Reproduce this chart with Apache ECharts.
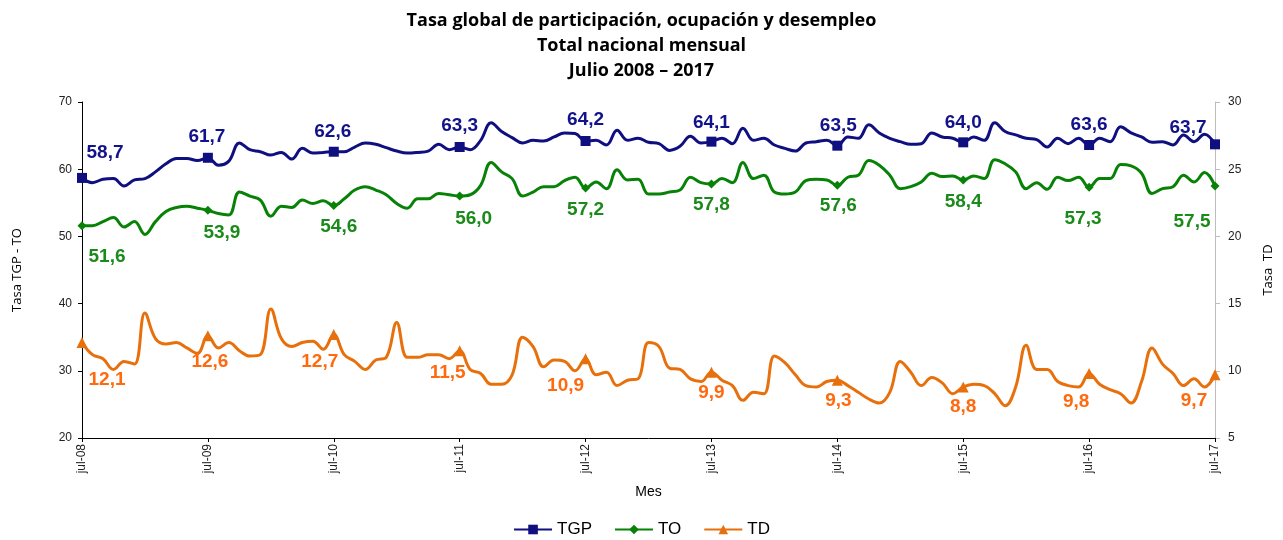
<!DOCTYPE html>
<html>
<head>
<meta charset="utf-8">
<script src="https://cdn.jsdelivr.net/npm/echarts@6/dist/echarts.min.js"></script>
<style>html,body{margin:0;padding:0;background:#fff}#c{width:1283px;height:540px}</style>
</head>
<body>
<div id="c"></div>
<script>
// Month abbreviations and years (July 2008 .. July 2017)
const monthNames = ['ene','feb','mar','abr','may','jun','jul','ago','sep','oct','nov','dic'];
const startYear = 2008, startMonth = 6, nMonths = 109;

// Tasa global de participación (left axis)
const TGP = [58.7,58.0,58.5,58.6,57.5,58.4,58.6,59.6,60.8,61.6,61.6,61.3,
  61.7,60.6,61.2,63.9,62.9,62.6,62.1,62.5,61.5,63.1,62.4,62.5,
  62.6,62.6,63.3,63.9,63.7,63.2,62.7,62.4,62.5,62.7,63.7,62.9,
  63.3,62.9,64.3,66.9,65.6,64.7,63.9,64.3,64.2,64.8,65.4,65.3,
  64.2,64.3,63.6,65.8,64.3,64.6,64.0,63.8,62.8,63.4,64.9,63.9,
  64.1,64.6,63.8,66.1,64.3,64.6,63.6,63.1,62.7,63.9,64.1,64.3,
  63.5,64.8,64.6,66.6,65.4,64.6,64.1,63.7,63.8,65.4,64.8,64.6,
  64.0,64.8,64.3,66.9,65.6,65.1,64.6,64.4,63.3,64.6,63.8,64.6,
  63.6,64.6,64.1,66.3,65.4,64.8,64.0,64.1,63.6,65.1,64.1,65.2,
  63.7];
// Tasa de ocupación (left axis)
const TO = [51.6,51.6,52.2,52.8,51.4,52.2,50.3,52.2,53.7,54.3,54.5,54.2,
  53.9,53.4,53.2,56.6,56.0,55.4,53.0,54.5,54.3,55.4,54.9,55.3,
  54.6,55.6,56.9,57.4,56.9,56.2,54.9,54.2,55.6,55.6,56.4,56.2,
  56.0,56.2,57.6,61.0,59.6,58.6,56.0,56.6,57.4,57.4,58.3,58.8,
  57.2,58.1,57.1,59.9,58.4,58.5,56.3,56.3,56.6,56.9,58.8,58.0,
  57.8,58.6,58.0,61.0,58.6,59.1,56.6,56.3,56.6,58.3,58.5,58.4,
  57.6,58.8,59.1,61.3,60.6,59.1,57.1,57.4,58.1,59.4,58.9,59.0,
  58.4,59.0,58.6,61.4,60.8,59.6,57.1,58.0,57.0,58.8,58.3,58.8,
  57.3,58.6,58.6,60.7,60.5,59.4,56.4,57.1,57.4,59.1,58.1,59.5,
  57.5];
// Tasa de desempleo (right axis)
const TD = [12.1,11.2,10.9,10.1,10.7,10.5,14.3,12.4,12.0,12.1,11.7,11.3,
  12.6,11.7,12.1,11.5,11.1,11.2,14.6,12.4,11.8,12.1,12.2,11.6,
  12.7,11.2,10.7,10.1,10.8,11.0,13.6,11.0,11.0,11.2,11.2,10.9,
  11.5,10.1,9.8,9.0,9.0,9.7,12.5,11.8,10.3,10.8,10.7,10.0,
  10.9,9.7,9.9,8.9,9.3,9.4,12.1,11.8,10.2,10.1,9.4,9.2,
  9.9,9.3,8.9,7.8,8.4,8.3,11.1,10.6,9.7,8.9,8.8,9.2,
  9.3,8.9,8.4,7.9,7.6,8.4,10.7,9.9,8.9,9.5,9.1,8.3,
  8.8,9.0,8.9,8.3,7.4,8.8,11.9,10.1,10.1,9.2,8.9,8.8,
  9.8,9.0,8.6,8.3,7.6,9.2,11.7,10.5,9.8,8.9,9.4,8.8,
  9.7];

// Label offsets (style only) for the July points, in order
const tgpLabelOffsets = [[23,-25],[-1,-21],[-1,-20],[0,-21],[0,-21],[0,-19],[1,-20],[0,-20],[0,-20],[-27,-17]];
const toLabelOffsets  = [[25,31],[14,23],[5,21],[14,23],[0,22],[0,21],[1,20],[0,22],[-6,31],[-23,36]];
const tdLabelOffsets  = [[25,37],[2,26],[-14,27],[-12,22],[-20,27],[0,21],[1,21],[0,20],[-13,28],[-21,26]];

const categories = [];
for (let i = 0; i < nMonths; i++) {
  const m = (startMonth + i) % 12;
  const y = startYear + Math.floor((startMonth + i) / 12);
  categories.push(monthNames[m] + '-' + String(y).slice(-2));
}

function buildData(values, offsets, color) {
  return values.map((v, i) => {
    if (i % 12 !== 0) return v;
    return {
      value: v,
      label: {
        show: true,
        position: 'inside',
        offset: offsets[i / 12],
        color: color,
        fontFamily: 'Liberation Sans, Arial, sans-serif',
        fontWeight: 'bold',
        fontSize: 19,
        formatter: p => p.value.toFixed(1).replace('.', ',')
      }
    };
  });
}

const chart = echarts.init(document.getElementById('c'), null, {renderer: 'canvas'});
const axisFont = {fontFamily: 'Liberation Sans, Arial, sans-serif', fontSize: 12, color: '#222'};
const july = (idx) => idx % 12 === 0;

chart.setOption({
  animation: false,
  backgroundColor: '#fff',
  title: {
    text: 'Tasa global de participación, ocupación y desempleo\nTotal nacional mensual\nJulio 2008 – 2017',
    left: 'center',
    top: 3,
    textStyle: {fontFamily: 'Open Sans', fontWeight: 'bold', fontSize: 18, lineHeight: 25, color: '#000'}
  },
  legend: {
    top: 516,
    left: 'center',
    itemWidth: 38,
    itemHeight: 12,
    itemGap: 22,
    textStyle: {fontFamily: 'Liberation Sans, Arial, sans-serif', fontSize: 17, color: '#000'},
    data: ['TGP', 'TO', 'TD']
  },
  grid: {left: 82, right: 62, top: 102, bottom: 102, containLabel: false},
  xAxis: {
    type: 'category',
    data: categories,
    boundaryGap: false,
    name: 'Mes',
    nameLocation: 'middle',
    nameGap: 47,
    nameTextStyle: {fontFamily: 'Liberation Sans, Arial, sans-serif', fontSize: 14, color: '#000'},
    axisLine: {lineStyle: {color: '#000', width: 1}},
    axisTick: {show: true, interval: (idx) => july(idx), length: 4, lineStyle: {color: '#000'}},
    axisLabel: {interval: (idx) => july(idx), rotate: 90, margin: 6, ...axisFont},
    splitLine: {show: false}
  },
  yAxis: [{
    type: 'value',
    min: 20, max: 70, interval: 10,
    name: 'Tasa TGP - TO',
    nameLocation: 'middle',
    nameRotate: 90,
    nameGap: 58,
    nameTextStyle: {fontFamily: 'Open Sans', fontSize: 13, color: '#000'},
    axisLine: {show: true, lineStyle: {color: '#000', width: 1}},
    axisTick: {show: true, length: 4, lineStyle: {color: '#000'}},
    axisLabel: {margin: 10, ...axisFont},
    splitLine: {show: false}
  }, {
    type: 'value',
    min: 5, max: 30, interval: 5,
    position: 'right',
    name: 'Tasa  TD',
    nameLocation: 'middle',
    nameRotate: 90,
    nameGap: 47,
    nameTextStyle: {fontFamily: 'Open Sans', fontSize: 13, color: '#000'},
    axisLine: {show: true, lineStyle: {color: '#bdbdbd', width: 1}},
    axisTick: {show: true, length: 5, lineStyle: {color: '#bdbdbd'}},
    axisLabel: {margin: 13, ...axisFont},
    splitLine: {show: false}
  }],
  series: [{
    name: 'TGP',
    type: 'line',
    yAxisIndex: 0,
    data: buildData(TGP, tgpLabelOffsets, '#12128a'),
    smooth: 0.4,
    symbol: 'rect',
    symbolSize: (v, p) => (p && july(p.dataIndex)) ? 10 : 0,
    showAllSymbol: true,
    lineStyle: {color: '#0f0f80', width: 3},
    itemStyle: {color: '#0f0f80'},
    label: {show: false},
    z: 3
  }, {
    name: 'TO',
    type: 'line',
    yAxisIndex: 0,
    data: buildData(TO, toLabelOffsets, '#1a8a1a'),
    smooth: 0.4,
    symbol: 'diamond',
    symbolSize: (v, p) => (p && july(p.dataIndex)) ? 9 : 0,
    showAllSymbol: true,
    lineStyle: {color: '#078207', width: 3},
    itemStyle: {color: '#078207'},
    label: {show: false},
    z: 3
  }, {
    name: 'TD',
    type: 'line',
    yAxisIndex: 1,
    data: buildData(TD, tdLabelOffsets, '#ff6a0e'),
    smooth: 0.4,
    symbol: 'triangle',
    symbolSize: (v, p) => (p && july(p.dataIndex)) ? 11 : 0,
    showAllSymbol: true,
    lineStyle: {color: '#e8700c', width: 3},
    itemStyle: {color: '#e8700c'},
    label: {show: false},
    z: 3
  }]
});
</script>
</body>
</html>
